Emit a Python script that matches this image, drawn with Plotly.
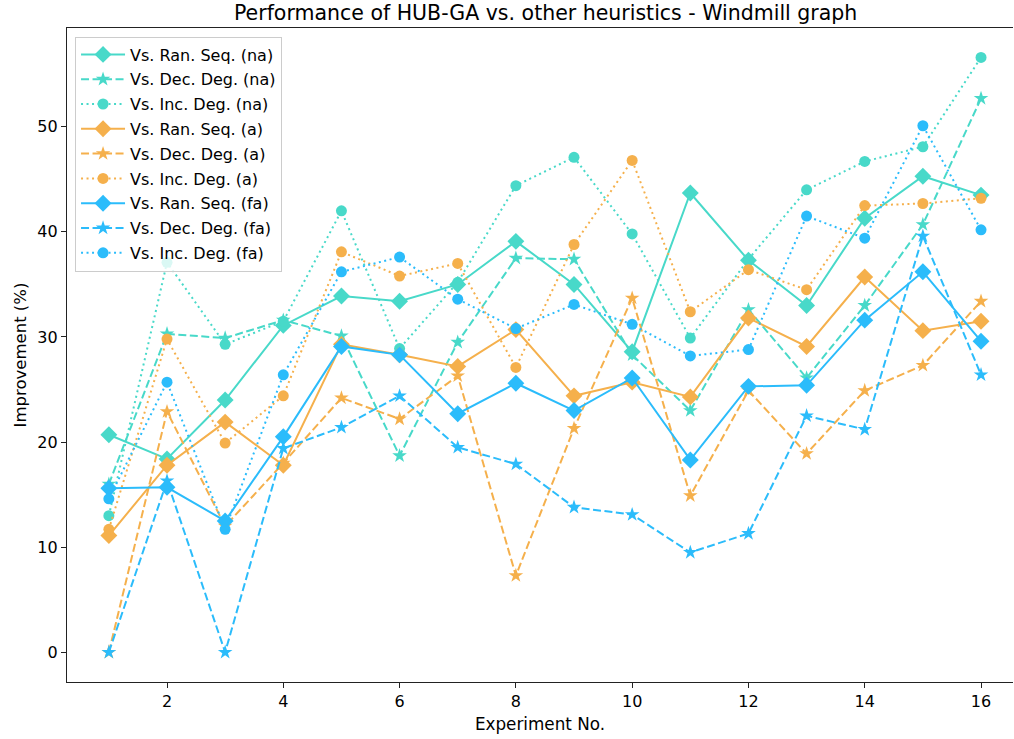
import plotly.graph_objects as go

experiments = list(range(1, 17))

ran_seq_na = [20.7, 18.4, 24.0, 31.1, 33.9, 33.4, 35.0, 39.1, 35.0, 28.6, 43.7, 37.3, 33.0, 41.3, 45.3, 43.5]
dec_deg_na = [16.0, 30.3, 29.9, 31.6, 30.1, 18.7, 29.5, 37.5, 37.4, 28.3, 23.0, 32.6, 26.1, 33.0, 40.7, 52.7]
inc_deg_na = [13.0, 37.1, 29.3, 31.5, 42.0, 28.9, 35.2, 44.4, 47.1, 39.8, 29.9, 37.4, 44.0, 46.7, 48.1, 56.6]

ran_seq_a = [11.1, 17.8, 21.9, 17.8, 29.3, 28.3, 27.2, 30.7, 24.4, 25.7, 24.3, 31.8, 29.1, 35.7, 30.6, 31.5]
dec_deg_a = [0.0, 22.9, 12.0, 18.0, 24.2, 22.2, 26.3, 7.3, 21.3, 33.7, 14.9, 24.9, 18.9, 24.9, 27.3, 33.4]
inc_deg_a = [11.7, 29.8, 19.9, 24.4, 38.1, 35.8, 37.0, 27.1, 38.8, 46.8, 32.4, 36.4, 34.5, 42.5, 42.7, 43.2]

ran_seq_fa = [15.6, 15.7, 12.5, 20.5, 29.1, 28.3, 22.7, 25.6, 23.0, 26.1, 18.3, 25.3, 25.4, 31.6, 36.2, 29.6]
dec_deg_fa = [0.0, 16.3, 0.0, 19.4, 21.4, 24.4, 19.5, 17.9, 13.8, 13.1, 9.5, 11.3, 22.5, 21.2, 39.6, 26.4]
inc_deg_fa = [14.6, 25.7, 11.7, 26.4, 36.2, 37.6, 33.6, 30.8, 33.1, 31.2, 28.2, 28.8, 41.5, 39.4, 50.1, 40.2]

x_ticks = [2, 4, 6, 8, 10, 12, 14, 16]
y_ticks = [0, 10, 20, 30, 40, 50]

TEAL = "#48d9c9"
ORANGE = "#f5b04c"
BLUE = "#2bbcfb"

series = [
    ("Vs. Ran. Seq. (na)", ran_seq_na, TEAL, "solid", "diamond", 13),
    ("Vs. Dec. Deg. (na)", dec_deg_na, TEAL, "8px,3.5px", "star", 11),
    ("Vs. Inc. Deg. (na)", inc_deg_na, TEAL, "2px,3.5px", "circle", 11),
    ("Vs. Ran. Seq. (a)", ran_seq_a, ORANGE, "solid", "diamond", 13),
    ("Vs. Dec. Deg. (a)", dec_deg_a, ORANGE, "8px,3.5px", "star", 11),
    ("Vs. Inc. Deg. (a)", inc_deg_a, ORANGE, "2px,3.5px", "circle", 11),
    ("Vs. Ran. Seq. (fa)", ran_seq_fa, BLUE, "solid", "diamond", 13),
    ("Vs. Dec. Deg. (fa)", dec_deg_fa, BLUE, "8px,3.5px", "star", 11),
    ("Vs. Inc. Deg. (fa)", inc_deg_fa, BLUE, "2px,3.5px", "circle", 11),
]

fig = go.Figure()
for i, (name, vals, color, dash, sym, size) in enumerate(series):
    fig.add_trace(go.Scatter(
        x=experiments, y=vals, name=name, mode="lines+markers",
        legendgroup=f"g{i}",
        line=dict(color=color, width=2, dash=dash),
        marker=dict(symbol=sym, size=size, color=color, line=dict(width=0)),
    ))

FONT = "DejaVu Sans"
fig.update_layout(
    width=1014, height=739,
    margin=dict(l=67, r=1, t=28, b=57),
    paper_bgcolor="white", plot_bgcolor="white",
    font=dict(family=FONT, size=14, color="#000"),
    title=dict(text="Performance of HUB-GA vs. other heuristics - Windmill graph",
               x=0.506, xref="paper", xanchor="center",
               y=1 - 13 / 739, yref="container", yanchor="middle",
               font=dict(size=20.5, family=FONT)),
    showlegend=True,
    legend=dict(x=0.0085, y=0.987, xanchor="left", yanchor="top",
                bgcolor="rgba(255,255,255,0.8)", bordercolor="#cccccc", borderwidth=1,
                font=dict(size=16, family=FONT), tracegroupgap=1, itemwidth=44,
                traceorder="grouped"),
)
fig.update_xaxes(range=[0.28, 16.55], tickvals=x_ticks, ticktext=[str(v) for v in x_ticks],
                 showgrid=False, zeroline=False, showline=True, linecolor="#222", linewidth=1.3,
                 mirror=True, ticks="outside", ticklen=5, tickcolor="#222",
                 tickfont=dict(size=16),
                 title=dict(text="Experiment No.", standoff=7, font=dict(size=16.8)))
fig.update_yaxes(range=[-2.83, 59.4], tickvals=y_ticks, ticktext=[str(v) for v in y_ticks],
                 showgrid=False, zeroline=False, showline=True, linecolor="#222", linewidth=1.3,
                 ticks="outside", ticklen=5, tickcolor="#222",
                 tickfont=dict(size=16),
                 title=dict(text="Improvement (%)", standoff=6, font=dict(size=16.5)))

fig.write_html("out.html")
